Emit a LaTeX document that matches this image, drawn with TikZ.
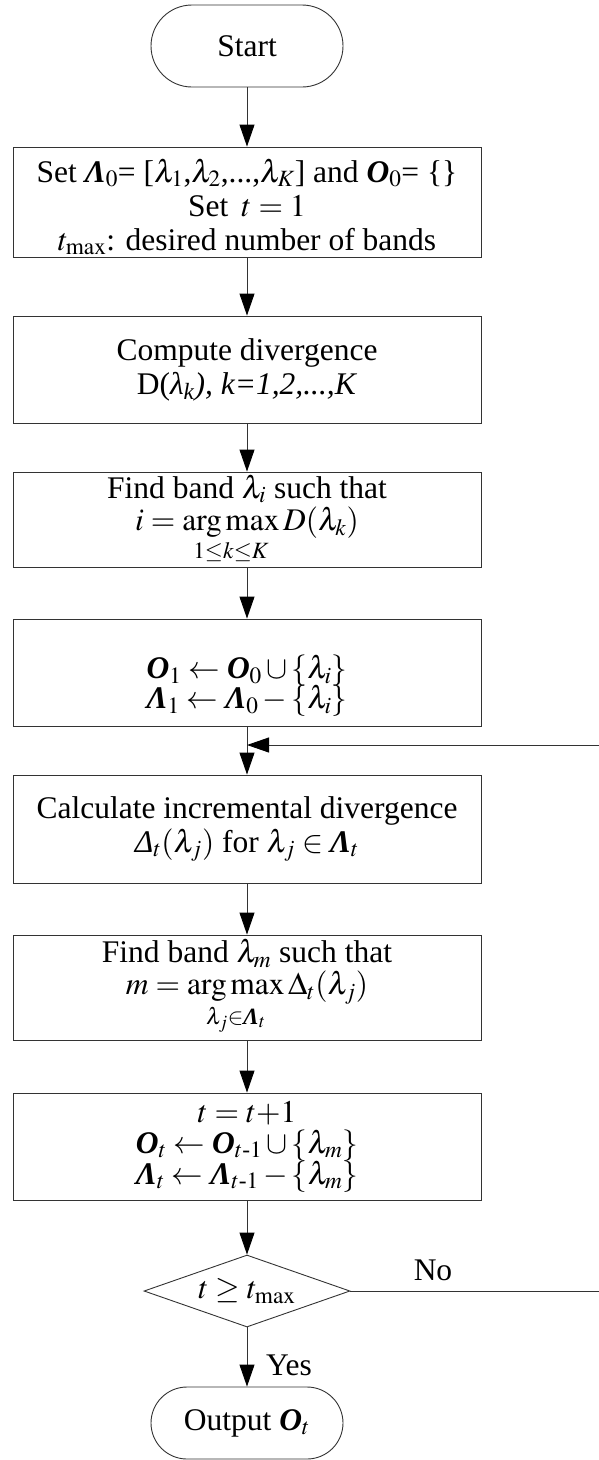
\documentclass[tikz,border=0pt]{standalone}
\usepackage{amsmath}
\usepackage{mathptmx}
\usepackage{fontspec}
\setmainfont{Liberation Serif}
\usetikzlibrary{shapes.geometric,arrows.meta}
\newcommand{\bO}{\text{\bfseries\itshape O}}
\newcommand{\bL}{\text{\bfseries\itshape Λ}}
\newcommand{\iD}{\text{\itshape Δ}}
\newcommand{\argmx}{\mathop{\mathrm{arg\,max}}\limits}
\begin{document}
\begin{tikzpicture}[x=1pt,y=-1pt,
  font=\fontsize{31.5}{34}\selectfont,
  line/.style={draw=black!80, line width=0.9pt},
  arr/.style={line, -{Triangle[length=22pt,width=15pt,color=black]}},
  box/.style={line, rectangle, minimum width=468pt, align=center, inner sep=0pt},
  txt/.style={align=center, inner sep=0pt},
  term/.style={line, rectangle, rounded corners=36pt, minimum width=192pt, align=center, inner sep=0pt},
  dec/.style={line, diamond, aspect=2.86, minimum width=206pt, minimum height=72pt, inner sep=0pt}]
\useasboundingbox (0,0) rectangle (598,1460);

\node[term, minimum height=82pt, rounded corners=41pt] (start) at (247,46) {Start};

\node[box, minimum height=110pt] (b1) at (247,202) {};
\node[txt] (b1t) at (247,207)
  {Set \bL$_0$= [$\lambda_1$,$\lambda_2$,...,$\lambda_K$] and \bO$_0$= \{\}\\
   Set\, $t=1$\\
   $t_{\max}$: desired number of bands};

\node[box, minimum height=107pt] (b2) at (247,369.5)
  {Compute divergence\\
   D(\textit{λ\textsubscript{k}), k=1,2,...,K}};

\node[box, minimum height=95pt] (b3) at (247,519.5)
  {Find band $\lambda_i$ such that\\[-2pt]
   $\displaystyle i=\argmx_{1\le k\le K} D(\lambda_k)$};

\node[box, minimum height=107pt] (b4) at (247,672.5) {};
\node[txt] (b4t) at (247,686)
  {$\bO_1\leftarrow\bO_0\cup\{\lambda_i\}$\\[-4pt]
   $\bL_1\leftarrow\bL_0-\{\lambda_i\}$};

\node[box, minimum height=108pt] (b5) at (247,829)
  {Calculate incremental divergence\\
   $\iD_t(\lambda_j)$ for $\lambda_j\in\bL_t$};

\node[box, minimum height=105pt] (b6) at (247,987.5)
  {Find band $\lambda_m$ such that\\[-2pt]
   $\displaystyle m=\argmx_{\lambda_j\in\bL_t}\Delta_t(\lambda_j)$};

\node[box, minimum height=107pt] (b7) at (247,1146.5)
  {$t=t{+}1$\\[-3pt]
   $\bO_t\leftarrow\bO_{t\text{-}1}\cup\{\lambda_m\}$\\[-3pt]
   $\bL_t\leftarrow\bL_{t\text{-}1}-\{\lambda_m\}$};

\node[dec] (dec) at (247,1291) {$t\ge t_{\max}$};

\node[term, minimum height=72pt] (out) at (247,1423) {Output \bO$_t$};

\node (no) at (433,1270) {No};
\node (yes) at (289,1365) {Yes};

\coordinate (fb) at (247,745);
\coordinate (loop) at (620,1291);

\draw[arr] (start) -- (b1);
\draw[arr] (b1) -- (b2);
\draw[arr] (b2) -- (b3);
\draw[arr] (b3) -- (b4);
\draw[arr] (b4) -- (b5);
\draw[arr] (b5) -- (b6);
\draw[arr] (b6) -- (b7);
\draw[arr] (b7) -- (dec);
\draw[arr] (dec) -- (out);
\draw[arr] (dec.east) -- (loop) |- (fb);
\end{tikzpicture}
\end{document}
